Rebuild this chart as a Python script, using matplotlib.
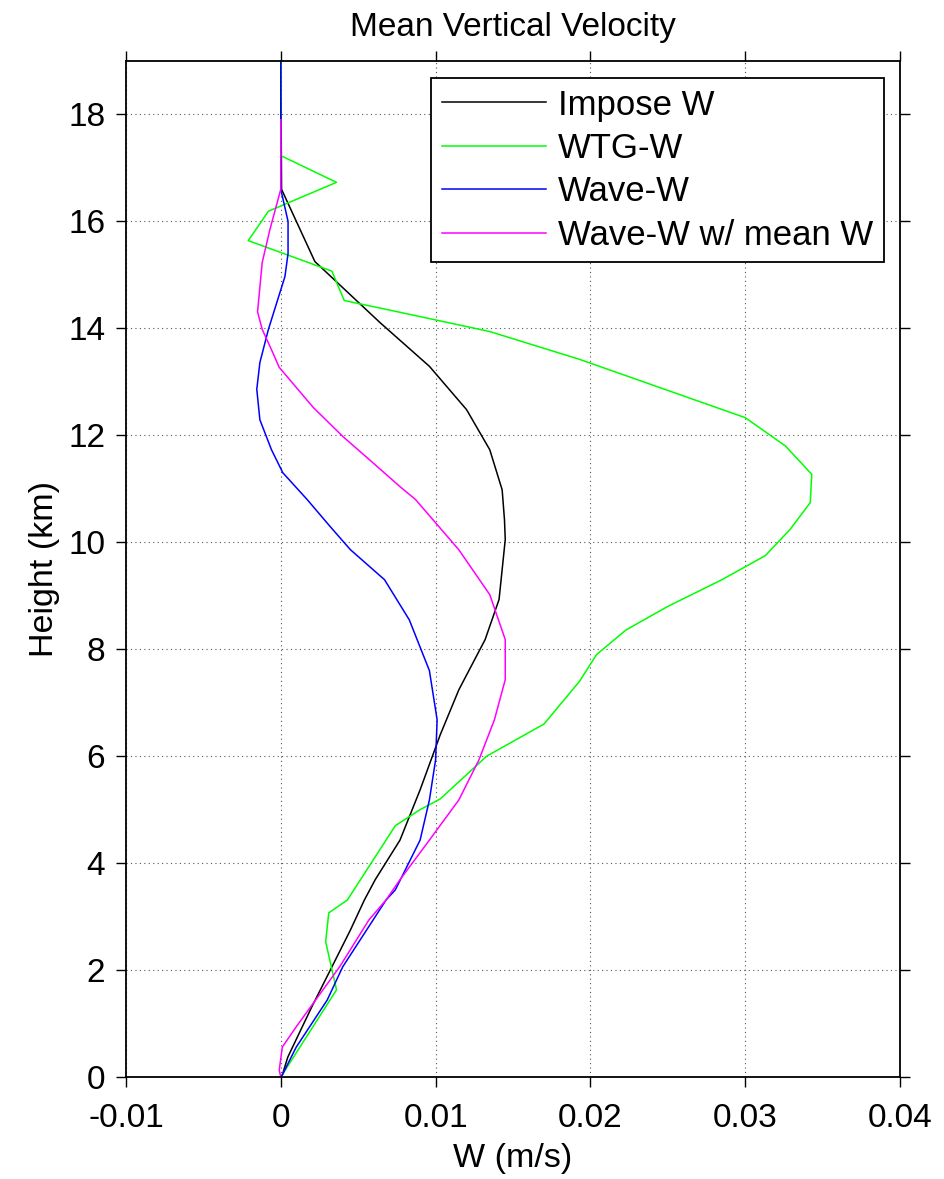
import matplotlib
matplotlib.use("Agg")
import matplotlib.pyplot as plt
from matplotlib.ticker import FuncFormatter

plt.rcParams['font.family'] = ['Liberation Sans', 'DejaVu Sans']

# height (km) / W (m/s) profiles
z_imp = [0.0, 0.04, 0.37, 1.31, 2.0, 2.75, 3.31, 3.69, 4.43, 5.37, 6.4, 7.24, 8.18, 8.93,
         10.05, 10.42, 10.98, 11.73, 12.48, 13.29, 13.7, 14.11, 15.25, 16.6, 19.0]
w_imp = [0.0, 0.0001, 0.00045, 0.002, 0.0032, 0.0045, 0.0054, 0.0061, 0.0077, 0.009, 0.0103,
         0.0115, 0.0132, 0.0141, 0.0145, 0.01445, 0.0143, 0.0135, 0.012, 0.0096, 0.0080,
         0.0064, 0.0022, 0.00005, 0.0]

z_wtg = [0.0, 1.63, 2.53, 3.07, 3.31, 4.7, 5.0, 5.2, 6.0, 6.6, 7.4, 7.9, 8.36, 8.8, 9.3, 9.75,
         10.24, 10.74, 11.27, 11.8, 12.33, 13.42, 13.94, 14.3, 14.52, 15.07, 15.64, 16.19,
         16.73, 17.23, 19.0]
w_wtg = [0.0, 0.0036, 0.0029, 0.0031, 0.0043, 0.0074, 0.009, 0.0103, 0.0133, 0.017, 0.0193,
         0.0204, 0.0223, 0.0250, 0.0285, 0.0313, 0.0329, 0.0342, 0.0343, 0.0326, 0.0300,
         0.0193, 0.0135, 0.0077, 0.0041, 0.0033, -0.0021, -0.0008, 0.0036, 0.0, 0.0]

z_wave = [0.0, 0.04, 0.56, 1.44, 2.06, 3.31, 3.5, 4.43, 5.18, 5.93, 6.68, 7.6, 8.55, 9.3,
          9.86, 10.29, 10.8, 11.3, 11.73, 12.29, 12.86, 13.36, 13.98, 14.97, 15.4, 16.0,
          16.6, 19.0]
w_wave = [0.0, 0.0001, 0.001, 0.003, 0.004, 0.0068, 0.0074, 0.009, 0.0096, 0.01, 0.0101,
          0.0096, 0.0083, 0.0067, 0.0045, 0.0032, 0.0017, 0.00013, -0.0006, -0.00135,
          -0.00155, -0.00135, -0.0008, 0.00027, 0.00047, 0.00047, 0.0, 0.0]

z_wmean = [0.0, 0.13, 0.56, 0.94, 2.06, 2.94, 3.31, 3.69, 4.43, 5.18, 5.93, 6.68, 7.43, 8.18,
           9.02, 9.86, 10.8, 11.04, 11.55, 11.98, 12.52, 13.27, 13.6, 13.98, 14.31, 15.23,
           15.85, 16.6, 17.9]
w_wmean = [0.0, -0.0001, 0.0001, 0.001, 0.0038, 0.0057, 0.0068, 0.0077, 0.0096, 0.0115,
           0.0128, 0.0138, 0.0145, 0.0145, 0.0135, 0.0115, 0.0087, 0.0077, 0.0057, 0.004,
           0.0021, -0.0001, -0.0006, -0.0012, -0.0015, -0.0012, -0.0007, 0.0, 0.0]

x_ticks = [-0.01, 0, 0.01, 0.02, 0.03, 0.04]
y_ticks = list(range(0, 19, 2))

fig = plt.figure(figsize=(9.45, 11.79), dpi=100)
ax = fig.add_axes([0.1333, 0.0865, 0.8191, 0.8618])

ax.plot(w_imp, z_imp, color='black', lw=1.1, label='Impose W')
ax.plot(w_wtg, z_wtg, color='#00ff00', lw=1.1, label='WTG-W')
ax.plot(w_wave, z_wave, color='#0000ff', lw=1.1, label='Wave-W')
ax.plot(w_wmean, z_wmean, color='#ff00ff', lw=1.1, label='Wave-W w/ mean W')

ax.set_xlim(-0.01, 0.04)
ax.set_ylim(0, 19)
ax.set_xticks(x_ticks)
ax.set_yticks(y_ticks)
ax.xaxis.set_major_formatter(FuncFormatter(lambda v, p: '0' if abs(v) < 1e-12 else f'{v:g}'))
ax.tick_params(direction='out', top=True, right=True, length=7, width=1.0,
               labelsize=24)
ax.tick_params(axis='x', pad=12)
ax.tick_params(axis='y', pad=8)
ax.grid(True, linestyle=(0, (1, 3)), color='#555555', lw=0.8)
for s in ax.spines.values():
    s.set_linewidth(1.3)

ax.set_xlabel('W (m/s)', fontsize=24.5, labelpad=6)
ax.set_ylabel('Height (km)', fontsize=24.5, labelpad=6)
fig.text(513 / 945, 1 - 36 / 1179, 'Mean Vertical Velocity', fontsize=24,
         ha='center', va='baseline')

leg = ax.legend(loc='upper right', fontsize=25, handlelength=3.0, handletextpad=0.35,
                labelspacing=0.3, borderpad=0.3, borderaxespad=0, fancybox=False,
                framealpha=1, edgecolor='black', bbox_to_anchor=(0.979, 0.983))
leg.get_frame().set_linewidth(1.3)

fig.savefig('out.png', dpi=100)
